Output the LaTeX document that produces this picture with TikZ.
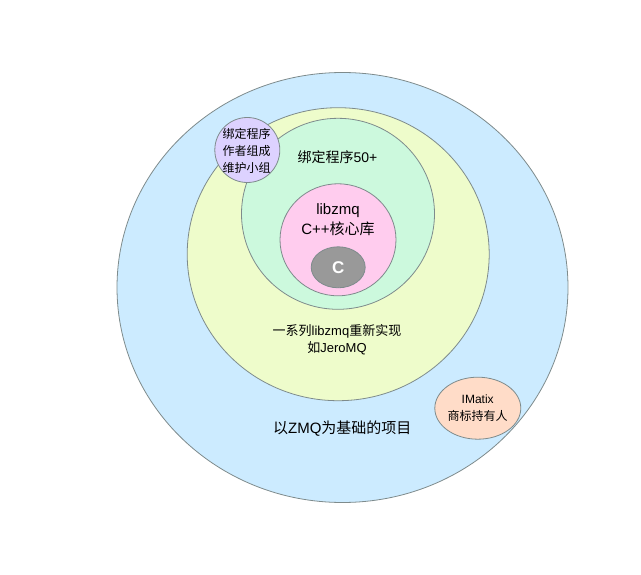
\documentclass[tikz,border=0pt]{standalone}
\usepackage{fontspec}
\setmainfont{Noto Sans CJK SC}
\newfontfamily\lat{Liberation Sans}
\usetikzlibrary{shapes.geometric}
\definecolor{cblue}{HTML}{CCEBFF}
\definecolor{cyel}{HTML}{EEFCCB}
\definecolor{cgreen}{HTML}{CCF9DD}
\definecolor{cpink}{HTML}{FFCCEE}
\definecolor{cgray}{HTML}{999999}
\definecolor{cpurple}{HTML}{DDD2FF}
\definecolor{cpeach}{HTML}{FFDCC8}
\definecolor{cstroke}{HTML}{7E8B8C}
\tikzset{
  blob/.style={ellipse, draw=cstroke, line width=0.8pt, inner sep=0pt, outer sep=0pt},
  lbl/.style={align=center, inner sep=0pt, text=black},
}
\newcommand{\fsz}[2]{\fontsize{#1}{#2}\selectfont}
\begin{document}
\begin{tikzpicture}[x=1pt,y=-1pt]
\useasboundingbox (0,0) rectangle (641,575);
\node[blob, fill=cblue, minimum width=451pt, minimum height=430pt] (outer) at (342.5,287.5) {};
\node[blob, fill=cyel, minimum width=302pt, minimum height=293pt] (impl) at (338.2,254.2) {};
\node[blob, fill=cgreen, minimum width=193pt, minimum height=191pt] (bind) at (338,213.8) {};
\node[blob, fill=cpink, minimum width=116pt, minimum height=112pt] (core) at (338,239.8) {};
\node[blob, fill=cgray, minimum width=54pt, minimum height=41pt] (cnode) at (338.2,267.3) {};
\node[blob, fill=cpurple, minimum width=65pt, minimum height=65pt] (team) at (247.3,150) {};
\node[blob, fill=cpeach, minimum width=86pt, minimum height=62pt] (imatix) at (477.8,408.2) {};
\node[lbl, font=\fsz{14}{20}] (bindt) at (337.5,157.5) {绑定程序{\lat 50+}};
\node[lbl, font=\fsz{15}{20}] (coret) at (338,220) {{\lat libzmq}\\{\lat C++}核心库};
\node[lbl, font=\lat\bfseries\fsz{17}{20}, text=white] (ct) at (338.2,267.3) {C};
\node[lbl, font=\fsz{12}{17}] (teamt) at (246.7,150.5) {绑定程序\\作者组成\\维护小组};
\node[lbl, font=\fsz{13}{17}] (implt) at (337,340) {一系列{\lat libzmq}重新实现\\如{\lat JeroMQ}};
\node[lbl, font=\fsz{12}{17}] (imatixt) at (477.7,408.3) {{\lat IMatix}\\商标持有人};
\node[lbl, font=\fsz{15}{20}] (outert) at (342.3,428.3) {以{\lat ZMQ}为基础的项目};
\end{tikzpicture}
\end{document}
